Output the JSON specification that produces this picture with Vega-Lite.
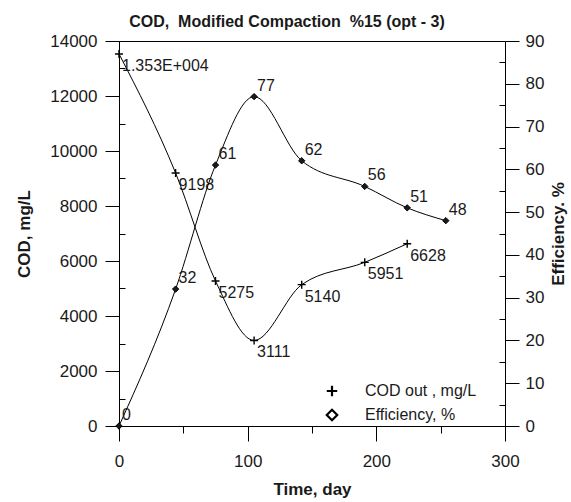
{
  "$schema": "https://vega.github.io/schema/vega-lite/v6.json",
  "width": 386,
  "height": 385,
  "autosize": {"type": "none"},
  "padding": {"left": 119, "top": 41, "right": 66, "bottom": 76},
  "background": "white",
  "config": {
    "font": "Liberation Sans",
    "view": {"stroke": "black", "strokeWidth": 1},
    "axis": {
      "grid": false,
      "domainColor": "black",
      "domainWidth": 1,
      "tickColor": "black",
      "tickWidth": 1,
      "labelColor": "#1a1a1a",
      "titleColor": "#1a1a1a",
      "labelFont": "Liberation Sans",
      "titleFont": "Liberation Sans",
      "labelFontSize": 17,
      "titleFontSize": 17,
      "titleFontWeight": "bold",
      "labelOverlap": false
    }
  },
  "title": {
    "text": "COD,\u00a0 Modified Compaction\u00a0 %15 (opt - 3)",
    "font": "Liberation Sans",
    "fontSize": 16,
    "fontWeight": "bold",
    "color": "#1a1a1a",
    "anchor": "middle",
    "dx": -25,
    "offset": 2
  },
  "datasets": {
    "cod": [
      {"day": 0, "cod": 13530, "label": "1.353E+004"},
      {"day": 44, "cod": 9198, "label": "9198"},
      {"day": 75, "cod": 5275, "label": "5275"},
      {"day": 105, "cod": 3111, "label": "3111"},
      {"day": 142, "cod": 5140, "label": "5140"},
      {"day": 191, "cod": 5951, "label": "5951"},
      {"day": 224, "cod": 6628, "label": "6628"}
    ],
    "eff": [
      {"day": 0, "eff": 0},
      {"day": 44, "eff": 32},
      {"day": 75, "eff": 61},
      {"day": 105, "eff": 77},
      {"day": 142, "eff": 62},
      {"day": 191, "eff": 56},
      {"day": 224, "eff": 51},
      {"day": 254, "eff": 48}
    ]
  },
  "encoding": {
    "x": {
      "field": "day",
      "type": "quantitative",
      "scale": {"domain": [0, 300], "nice": false, "zero": false},
      "axis": {
        "title": "Time, day",
        "values": [0, 50, 100, 150, 200, 250, 300],
        "format": "d",
        "labelExpr": "datum.value % 100 === 0 ? datum.label : ''",
        "tickSize": {"condition": {"test": "datum.value % 100 === 0", "value": 15}, "value": 7},
        "labelPadding": 12,
        "labelFlush": false,
        "titlePadding": 12
      }
    }
  },
  "layer": [
    {
      "data": {"name": "cod"},
      "encoding": {
        "y": {
          "field": "cod",
          "type": "quantitative",
          "scale": {"domain": [0, 14000], "nice": false},
          "axis": {
            "title": "COD, mg/L",
            "orient": "left",
            "values": [0, 1000, 2000, 3000, 4000, 5000, 6000, 7000, 8000, 9000, 10000, 11000, 12000, 13000, 14000],
            "format": "d",
            "labelExpr": "datum.value % 2000 === 0 ? datum.label : ''",
            "tickSize": {"condition": {"test": "datum.value % 2000 === 0", "value": 14}, "value": -6},
            "labelPadding": 8,
            "titlePadding": 16
          }
        }
      },
      "layer": [
        {"mark": {"type": "line", "interpolate": "monotone", "color": "black", "strokeWidth": 1}},
        {
          "mark": {"type": "point", "filled": false, "stroke": "black", "strokeWidth": 1.4, "size": 64, "opacity": 1},
          "encoding": {
            "shape": {
              "datum": "COD out , mg/L",
              "type": "nominal",
              "scale": {
                "domain": ["COD out , mg/L", "Efficiency, %"],
                "range": ["M-1,0H1M0,-1V1", "diamond"]
              },
              "legend": {
                "title": null,
                "orient": "none",
                "legendX": 205,
                "legendY": 342,
                "padding": 0,
                "labelFont": "Liberation Sans",
                "labelFontSize": 16,
                "labelColor": "#1a1a1a",
                "labelOffset": 25,
                "rowPadding": 4,
                "symbolSize": 110,
                "symbolStrokeColor": "black",
                "symbolFillColor": "white",
                "symbolStrokeWidth": 2.2
              }
            }
          }
        },
        {
          "mark": {"type": "text", "align": "left", "baseline": "top", "dx": 3, "dy": 4, "fontSize": 16, "font": "Liberation Sans", "color": "#1a1a1a"},
          "encoding": {"text": {"field": "label", "type": "nominal"}}
        }
      ]
    },
    {
      "data": {"name": "eff"},
      "encoding": {
        "y": {
          "field": "eff",
          "type": "quantitative",
          "scale": {"domain": [0, 90], "nice": false},
          "axis": {
            "title": "Efficiency. %",
            "orient": "right",
            "titleAngle": 270,
            "values": [0, 5, 10, 15, 20, 25, 30, 35, 40, 45, 50, 55, 60, 65, 70, 75, 80, 85, 90],
            "format": "d",
            "labelExpr": "datum.value % 10 === 0 ? datum.label : ''",
            "tickSize": {"condition": {"test": "datum.value % 10 === 0", "value": 14}, "value": -6},
            "labelPadding": 6,
            "titlePadding": 24
          }
        }
      },
      "layer": [
        {"mark": {"type": "line", "interpolate": "monotone", "color": "black", "strokeWidth": 1}},
        {
          "mark": {"type": "point", "filled": true, "fill": "#1a1a1a", "stroke": "black", "strokeWidth": 1, "size": 40, "opacity": 1},
          "encoding": {"shape": {"datum": "Efficiency, %", "type": "nominal"}}
        },
        {
          "mark": {"type": "text", "align": "left", "baseline": "alphabetic", "dx": 3, "dy": -6, "fontSize": 16, "font": "Liberation Sans", "color": "#1a1a1a"},
          "encoding": {"text": {"field": "eff", "type": "quantitative", "format": "d"}}
        }
      ]
    }
  ],
  "resolve": {"scale": {"y": "independent"}}
}
